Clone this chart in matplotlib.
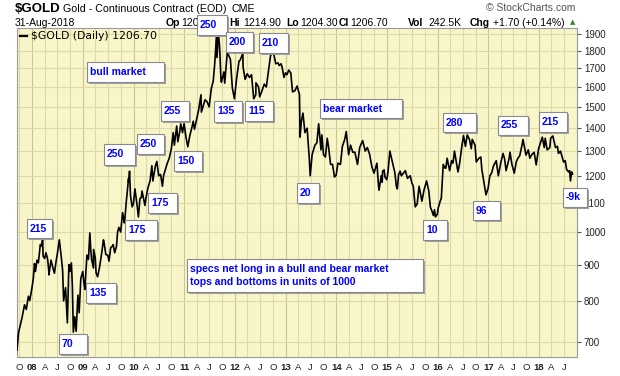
import matplotlib
matplotlib.use("Agg")
import matplotlib.pyplot as plt
import pandas as pd
from matplotlib.patches import Rectangle
from matplotlib.lines import Line2D

plt.rcParams["font.family"] = ["Liberation Sans", "DejaVu Sans"]

# gold continuous contract (approx. swing points)
dates = [
    # 2007
    "2007-09-14", "2007-09-25", "2007-10-05", "2007-10-20", "2007-11-07", "2007-11-20",
    "2007-12-05", "2007-12-15", "2007-12-31",
    # 2008
    "2008-01-10", "2008-01-18", "2008-01-25", "2008-02-05", "2008-02-15", "2008-02-29",
    "2008-03-07", "2008-03-17", "2008-03-20", "2008-03-31", "2008-04-10",
    "2008-04-22", "2008-04-30", "2008-05-01", "2008-05-16", "2008-05-30", "2008-06-10",
    "2008-06-20", "2008-06-30", "2008-07-15", "2008-07-31", "2008-08-08", "2008-08-15",
    "2008-08-29", "2008-09-11", "2008-09-22", "2008-09-30", "2008-10-10", "2008-10-17",
    "2008-10-24", "2008-11-03", "2008-11-13", "2008-11-26", "2008-12-05",
    "2008-12-17", "2008-12-31",
    # 2009
    "2009-01-08", "2009-01-15", "2009-01-30", "2009-02-10", "2009-02-20", "2009-02-27",
    "2009-03-05", "2009-03-18", "2009-03-19", "2009-03-31", "2009-04-06", "2009-04-17",
    "2009-04-30", "2009-05-15", "2009-05-29", "2009-06-02", "2009-06-15", "2009-06-30",
    "2009-07-08", "2009-07-20", "2009-07-31", "2009-08-07", "2009-08-18", "2009-08-31",
    "2009-09-08", "2009-09-17", "2009-09-30", "2009-10-14", "2009-10-27", "2009-10-30",
    "2009-11-09", "2009-11-26", "2009-11-27", "2009-12-03", "2009-12-10", "2009-12-22",
    "2009-12-31",
    # 2010
    "2010-01-11", "2010-01-28", "2010-02-05", "2010-02-16", "2010-02-26", "2010-03-03",
    "2010-03-24", "2010-03-31", "2010-04-15", "2010-04-30", "2010-05-13", "2010-05-20",
    "2010-06-08", "2010-06-18", "2010-07-01", "2010-07-15", "2010-07-28", "2010-08-05",
    "2010-08-31", "2010-09-15", "2010-09-30", "2010-10-14", "2010-10-22", "2010-11-08",
    "2010-11-16", "2010-11-30", "2010-12-07", "2010-12-20", "2010-12-31",
    # 2011
    "2011-01-14", "2011-01-27", "2011-02-10", "2011-02-28", "2011-03-07", "2011-03-16",
    "2011-03-31", "2011-04-15", "2011-05-02", "2011-05-05", "2011-05-13", "2011-05-31",
    "2011-06-15", "2011-06-30", "2011-07-15", "2011-07-29", "2011-08-08", "2011-08-19",
    "2011-08-23", "2011-08-25", "2011-09-05", "2011-09-13", "2011-09-23", "2011-09-26",
    "2011-10-14", "2011-10-20", "2011-11-08", "2011-11-14", "2011-11-30", "2011-12-14",
    "2011-12-29",
    # 2012
    "2012-01-13", "2012-01-31", "2012-02-08", "2012-02-28", "2012-02-29", "2012-03-15",
    "2012-03-30", "2012-04-16", "2012-04-30", "2012-05-16", "2012-05-31", "2012-06-01",
    "2012-06-20", "2012-06-28", "2012-07-12", "2012-07-31", "2012-08-15", "2012-08-31",
    "2012-09-14", "2012-10-04", "2012-10-22", "2012-11-07", "2012-11-16", "2012-11-29",
    "2012-12-07", "2012-12-20", "2012-12-31",
    # 2013
    "2013-01-11", "2013-01-23", "2013-02-07", "2013-02-20", "2013-03-08", "2013-03-25",
    "2013-04-11", "2013-04-15", "2013-04-24", "2013-05-06", "2013-05-20", "2013-06-05",
    "2013-06-20", "2013-06-27", "2013-07-11", "2013-07-31", "2013-08-14", "2013-08-27",
    "2013-09-13", "2013-09-19", "2013-10-01", "2013-10-15", "2013-10-28", "2013-11-07",
    "2013-11-21", "2013-12-05", "2013-12-19", "2013-12-31",
    # 2014
    "2014-01-13", "2014-01-31", "2014-02-14", "2014-03-03", "2014-03-14", "2014-03-31",
    "2014-04-14", "2014-04-30", "2014-05-15", "2014-05-28", "2014-06-03", "2014-06-19",
    "2014-07-10", "2014-07-29", "2014-08-13", "2014-08-29", "2014-09-15", "2014-09-30",
    "2014-10-21", "2014-10-31", "2014-11-05", "2014-11-21", "2014-11-28", "2014-12-01",
    "2014-12-12", "2014-12-18", "2014-12-31",
    # 2015
    "2015-01-09", "2015-01-22", "2015-02-05", "2015-02-27", "2015-03-10", "2015-03-17",
    "2015-03-26", "2015-04-06", "2015-04-15", "2015-05-14", "2015-05-29", "2015-06-18",
    "2015-06-30", "2015-07-10", "2015-07-20", "2015-07-24", "2015-08-07", "2015-08-21",
    "2015-09-10", "2015-09-25", "2015-10-14", "2015-10-30", "2015-11-10", "2015-11-23",
    "2015-12-02", "2015-12-10", "2015-12-17", "2015-12-31",
    # 2016
    "2016-01-05", "2016-01-20", "2016-01-28", "2016-02-11", "2016-02-24", "2016-03-01",
    "2016-03-10", "2016-03-28", "2016-04-11", "2016-04-21", "2016-05-02", "2016-05-27",
    "2016-06-07", "2016-06-24", "2016-07-06", "2016-07-20", "2016-08-02", "2016-08-18",
    "2016-08-31", "2016-09-07", "2016-09-27", "2016-10-06", "2016-10-25", "2016-11-08",
    "2016-11-15", "2016-11-30", "2016-12-15", "2016-12-30",
    # 2017
    "2017-01-12", "2017-01-24", "2017-02-08", "2017-02-27", "2017-03-14", "2017-03-31",
    "2017-04-17", "2017-04-28", "2017-05-09", "2017-05-31", "2017-06-06", "2017-06-20",
    "2017-07-07", "2017-07-21", "2017-08-02", "2017-08-15", "2017-08-29", "2017-09-08",
    "2017-09-29", "2017-10-16", "2017-10-27", "2017-11-10", "2017-11-27", "2017-12-12",
    "2017-12-29",
    # 2018
    "2018-01-12", "2018-01-25", "2018-02-08", "2018-02-15", "2018-03-01", "2018-03-20",
    "2018-03-26", "2018-04-11", "2018-04-30", "2018-05-14", "2018-05-21", "2018-06-05",
    "2018-06-15", "2018-06-27", "2018-07-09", "2018-07-19", "2018-08-02", "2018-08-10",
    "2018-08-16", "2018-08-24", "2018-08-31",
]

closes = [
    # 2007
    682, 722, 736, 757, 790, 778, 812, 801, 835,
    # 2008
    862, 903, 880, 913, 905, 960, 955, 978, 925, 918, 935,
    915, 882, 870, 913, 890, 875, 905, 930, 975, 915, 882, 800,
    835, 745, 900, 880, 905, 840, 723, 760, 725, 815, 770,
    860, 880,
    # 2009
    850, 830, 928, 915, 997, 942, 915, 890, 945, 920, 876, 865,
    890, 930, 975, 968, 930, 927, 910, 950, 955, 960, 935, 955,
    1000, 1015, 1000, 1065, 1030, 1040, 1100, 1190, 1175, 1218, 1125, 1085,
    1097,
    # 2010
    1150, 1085, 1050, 1115, 1118, 1142, 1090, 1115, 1155, 1180, 1240, 1180,
    1240, 1257, 1200, 1205, 1160, 1200, 1248, 1270, 1308, 1380, 1325, 1410,
    1340, 1385, 1420, 1380, 1421,
    # 2011
    1360, 1318, 1365, 1410, 1432, 1395, 1440, 1485, 1560, 1475, 1493, 1535,
    1525, 1500, 1590, 1630, 1715, 1850, 1890, 1760, 1900, 1825, 1640, 1625,
    1680, 1620, 1795, 1780, 1750, 1595, 1540,
    # 2012
    1640, 1740, 1745, 1785, 1710, 1640, 1670, 1650, 1665, 1540, 1560, 1622,
    1600, 1550, 1575, 1615, 1600, 1690, 1770, 1795, 1725, 1730, 1715, 1725,
    1705, 1650, 1675,
    # 2013
    1665, 1690, 1675, 1575, 1580, 1605, 1560, 1360, 1430, 1470, 1380, 1400,
    1275, 1200, 1285, 1325, 1335, 1420, 1305, 1370, 1285, 1275, 1355, 1315,
    1245, 1245, 1195, 1202,
    # 2014
    1250, 1245, 1320, 1350, 1385, 1285, 1325, 1295, 1295, 1260, 1245, 1315,
    1345, 1300, 1315, 1287, 1235, 1210, 1250, 1172, 1145, 1200, 1175, 1218,
    1223, 1195, 1185,
    # 2015
    1215, 1300, 1265, 1213, 1160, 1150, 1205, 1218, 1200, 1220, 1190, 1200,
    1172, 1160, 1105, 1085, 1095, 1160, 1105, 1145, 1180, 1142, 1085, 1068,
    1055, 1075, 1050, 1060,
    # 2016
    1080, 1105, 1115, 1245, 1230, 1230, 1270, 1220, 1260, 1250, 1300, 1215,
    1245, 1320, 1367, 1320, 1370, 1350, 1310, 1350, 1325, 1255, 1270, 1275,
    1225, 1175, 1128, 1152,
    # 2017
    1200, 1210, 1240, 1260, 1200, 1250, 1290, 1268, 1220, 1270, 1295, 1245,
    1210, 1255, 1270, 1280, 1318, 1350, 1283, 1305, 1270, 1285, 1295, 1243,
    1310,
    # 2018
    1335, 1360, 1315, 1355, 1305, 1315, 1355, 1365, 1315, 1320, 1290, 1300,
    1280, 1255, 1260, 1225, 1215, 1220, 1180, 1215, 1206.7,
]

price_ticks = [700, 800, 900, 1000, 1100, 1200, 1300, 1400, 1500, 1600, 1700, 1800, 1900]
month_letters = {1: None, 4: "A", 7: "J", 10: "O"}

# tops/bottoms boxes (pixel boxes: text, left, top, right, bottom)
boxes = [
    ("250", 197, 15, 227, 35), ("200", 226, 32, 253, 52), ("210", 259, 33, 288, 53),
    ("135", 214, 101, 242, 122), ("115", 245, 101, 273, 121), ("255", 161, 101, 189, 121),
    ("250", 137, 134, 164, 154), ("250", 104, 144, 135, 165), ("150", 174, 151, 202, 171),
    ("175", 148, 193, 177, 213), ("175", 125, 220, 157, 240), ("215", 27, 219, 52, 238),
    ("135", 86, 283, 116, 303), ("70", 59, 334, 87, 354),
    ("bull market", 87, 62, 164, 82), ("bear market", 320, 99, 402, 118),
    ("20", 297, 183, 319, 203), ("10", 423, 220, 447, 240), ("96", 473, 201, 500, 220),
    ("280", 443, 113, 476, 132), ("255", 498, 116, 528, 135), ("215", 539, 112, 567, 132),
    ("-9k", 563, 188, 587, 207),
    ("specs net long in a bull and bear market\ntops and bottoms in units of 1000", 187, 259, 423, 292),
]

W, H = 620, 376
fig = plt.figure(figsize=(W / 100, H / 100), dpi=100)
fig.patch.set_facecolor("white")
ax = fig.add_axes([17 / W, 19 / H, 560 / W, 329 / H])
ax.set_facecolor("#f8f6c9")

x = pd.to_datetime(dates)
ax.plot(x, closes, color="black", lw=1.2, zorder=3)

ax.set_yscale("log")
ax.set_ylim(667, 1937)
ax.set_xlim(pd.Timestamp("2007-09-14"), pd.Timestamp("2018-10-02"))

# right side price axis
ax.yaxis.tick_right()
ax.set_yticks(price_ticks)
ax.set_yticklabels([str(p) for p in price_ticks])
ax.minorticks_off()
ax.tick_params(axis="y", length=3, width=0.8, color="#555555", pad=2, labelsize=7, labelcolor="#222222")

# quarterly x ticks
quarters = pd.date_range("2007-10-01", "2018-07-01", freq="QS")
qlabels = [q.strftime("%y") if q.month == 1 else month_letters[q.month] for q in quarters]
ax.set_xticks(quarters)
ax.set_xticklabels(qlabels)
ax.tick_params(axis="x", length=0, pad=4, labelsize=6.8, labelcolor="#222222")
for lbl, q in zip(ax.get_xticklabels(), quarters):
    if q.month == 1:
        lbl.set_fontweight("bold")

# grid
for q in quarters:
    ax.axvline(q, color="#c9c78a" if q.month == 1 else "#dcdaa8", lw=0.8, zorder=1)
for p in price_ticks:
    ax.axhline(p, color="#dcdaa8", lw=0.8, zorder=1)

for side in ["left", "right", "top", "bottom"]:
    ax.spines[side].set_color("#9a9a9a")
    ax.spines[side].set_linewidth(0.8)


def px(xp, yp):
    return xp / W, 1 - yp / H


# header
fig.text(*px(15, 9), "$GOLD", fontsize=9.5, fontweight="bold", va="center", ha="left")
fig.text(*px(63, 9), "Gold - Continuous Contract (EOD)", fontsize=7.7, va="center", ha="left")
fig.text(*px(231, 9), "CME", fontsize=7.7, va="center", ha="left")
fig.text(*px(486, 8), "\u00a9 StockCharts.com", fontsize=7.5, va="center", ha="left", color="#555555")
fig.text(*px(15, 23), "31-Aug-2018", fontsize=7.5, va="center", ha="left")
quote = [("Op", 166, True), ("1209.00", 181, False), ("Hi", 229, True), ("1214.90", 243, False),
         ("Lo", 286, True), ("1204.30", 300, False), ("Cl", 339, True), ("1206.70", 350, False),
         ("Vol", 408, True), ("242.5K", 428, False), ("Chg", 470, True), ("+1.70 (+0.14%)", 493, False)]
for txt, xp, bold in quote:
    fig.text(*px(xp, 23), txt, fontsize=7.5, va="center", ha="left",
             fontweight="bold" if bold else "normal")
fig.text(*px(570, 22), "\u25b2", fontsize=5, va="center", ha="left", color="#2e8b2e",
         family="DejaVu Sans")

# legend line inside the chart
fig.add_artist(Line2D([20 / W, 27 / W], [1 - 36 / H, 1 - 36 / H], color="black", lw=1.6))
fig.text(*px(31, 36), "$GOLD (Daily) 1206.70", fontsize=7.8, va="center", ha="left",
         family="DejaVu Sans")

# annotation boxes with drop shadow
for txt, x0, y0, x1, y1 in boxes:
    fig.add_artist(Rectangle((x0 / W + 2 / W, 1 - (y1 + 2) / H), (x1 - x0) / W, (y1 - y0) / H,
                             transform=fig.transFigure, facecolor="#a0a0a0", edgecolor="none",
                             zorder=5))
    fig.add_artist(Rectangle((x0 / W, 1 - y1 / H), (x1 - x0) / W, (y1 - y0) / H,
                             transform=fig.transFigure, facecolor="white", edgecolor="#8a8a8a",
                             lw=0.8, zorder=6))
    fig.text(*px(x0 + 3, (y0 + y1) / 2), txt, fontsize=7.5, fontweight="bold", color="#0000ff",
             va="center", ha="left", zorder=7, linespacing=1.45)

fig.savefig("out.png", dpi=100)
